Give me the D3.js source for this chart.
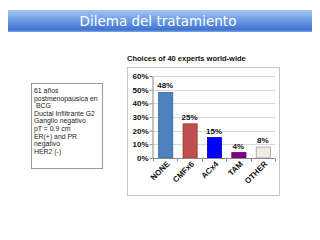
<!DOCTYPE html>
<html><head><meta charset="utf-8">
<script src="https://cdn.jsdelivr.net/npm/d3@7"></script>
<style>html,body{margin:0;padding:0;background:#fff;}svg{display:block;}</style>
</head><body>
<svg id="c" width="320" height="240"></svg>
<script>
const categories = ["NONE","CMFx6","ACx4","TAM","OTHER"];
const values = [48,25,15,4,8];
const valueLabels = ["48%","25%","15%","4%","8%"];
const barColors = ["#4f81bd","#c0504d","#0000ff","#800080","#eeece1"];
const barStrokes = ["#3a6aa3","#9c3a37","#0000c0","#600060","#a0a0a0"];
const yTicks = [0,10,20,30,40,50,60];
const caseLines = ["61 años","postmenopausica en"," BCG","Ductal Infiltrante G2","Ganglio negativo","pT = 0.9 cm","ER(+) and PR","negativo","HER2 (-)"];
const title = "Dilema del tratamiento";
const subtitle = "Choices of 40 experts world-wide";

const svg = d3.select("#c");
const defs = svg.append("defs");
const g = defs.append("linearGradient").attr("id","ban").attr("x1",0).attr("y1",0).attr("x2",0).attr("y2",1);
[[0,"#a6c4f2"],[0.45,"#6f9de6"],[0.9,"#3f74d0"],[1,"#7ea6e8"]].forEach(([o,c])=>g.append("stop").attr("offset",o).attr("stop-color",c));

svg.append("rect").attr("x",8).attr("y",10).attr("width",304).attr("height",22).attr("fill","url(#ban)");
svg.append("text").attr("x",158).attr("y",26).attr("text-anchor","middle")
  .attr("font-family","DejaVu Sans, sans-serif").attr("font-size",13.5).attr("fill","#fff").text(title);

// case box
svg.append("rect").attr("x",31.5).attr("y",83.5).attr("width",71).attr("height",85).attr("fill","#fff").attr("stroke","#9a9a9a");
svg.append("g").selectAll("text").data(caseLines).join("text")
  .attr("x",34).attr("y",(d,i)=>93+i*7.6).attr("font-family","Liberation Sans, Arial, sans-serif")
  .attr("font-size",6.9).attr("fill","#222").attr("xml:space","preserve").text(d=>d);

// subtitle
svg.append("text").attr("x",127).attr("y",61).attr("font-family","Liberation Sans, Arial, sans-serif")
  .attr("font-weight","bold").attr("font-size",7.5).attr("fill","#111").text(subtitle);

// chart box
svg.append("rect").attr("x",127.5).attr("y",67.5).attr("width",152).attr("height",128).attr("fill","#fff").attr("stroke","#c4c4c4");

const x = d3.scaleBand().domain(categories).range([153,275]).paddingInner(0.42).paddingOuter(0.21);
const y = d3.scaleLinear().domain([0,60]).range([158,76]);

// gridlines
svg.append("g").selectAll("line").data(yTicks.filter(t=>t>0)).join("line")
  .attr("x1",153).attr("x2",275).attr("y1",d=>Math.round(y(d))+0.5).attr("y2",d=>Math.round(y(d))+0.5)
  .attr("stroke","#d8d8d8");

const yAxis = svg.append("g").attr("transform","translate(152.5,0)")
  .call(d3.axisLeft(y).tickValues(yTicks).tickFormat(d=>d+"%").tickSize(3).tickSizeOuter(0));
yAxis.select(".domain").attr("stroke","#888");
yAxis.selectAll(".tick line").attr("stroke","#888");
yAxis.selectAll("text").attr("font-family","Liberation Sans, Arial, sans-serif").attr("font-weight","bold")
  .attr("font-size",8).attr("fill","#111").attr("x",-4);

// bars
svg.append("g").selectAll("rect").data(values).join("rect")
  .attr("x",(d,i)=>x(categories[i])+0.5).attr("width",x.bandwidth())
  .attr("y",d=>y(d)).attr("height",d=>y(0)-y(d))
  .attr("fill",(d,i)=>barColors[i]).attr("stroke",(d,i)=>barStrokes[i]).attr("stroke-width",0.8);

svg.append("g").selectAll("text").data(values).join("text")
  .attr("x",(d,i)=>x(categories[i])+x.bandwidth()/2).attr("y",d=>y(d)-4)
  .attr("text-anchor","middle").attr("font-family","Liberation Sans, Arial, sans-serif")
  .attr("font-weight","bold").attr("font-size",8).attr("fill","#111").text((d,i)=>valueLabels[i]);

// x axis
const xAxisG = svg.append("g").attr("transform","translate(0,158.5)");
xAxisG.append("line").attr("x1",153).attr("x2",275).attr("stroke","#888");
const bounds = d3.range(categories.length+1).map(i=>153+i*122/categories.length);
xAxisG.selectAll("line.t").data(bounds).join("line").attr("class","t")
  .attr("x1",d=>Math.round(d)+0.5).attr("x2",d=>Math.round(d)+0.5).attr("y1",0).attr("y2",3).attr("stroke","#888");
xAxisG.selectAll("text").data(categories).join("text")
  .attr("transform",d=>`translate(${x(d)+x.bandwidth()/2+5},6) rotate(-45)`)
  .attr("text-anchor","end").attr("font-family","Liberation Sans, Arial, sans-serif")
  .attr("font-weight","bold").attr("font-size",8).attr("fill","#111").text(d=>d);
</script>
</body></html>
